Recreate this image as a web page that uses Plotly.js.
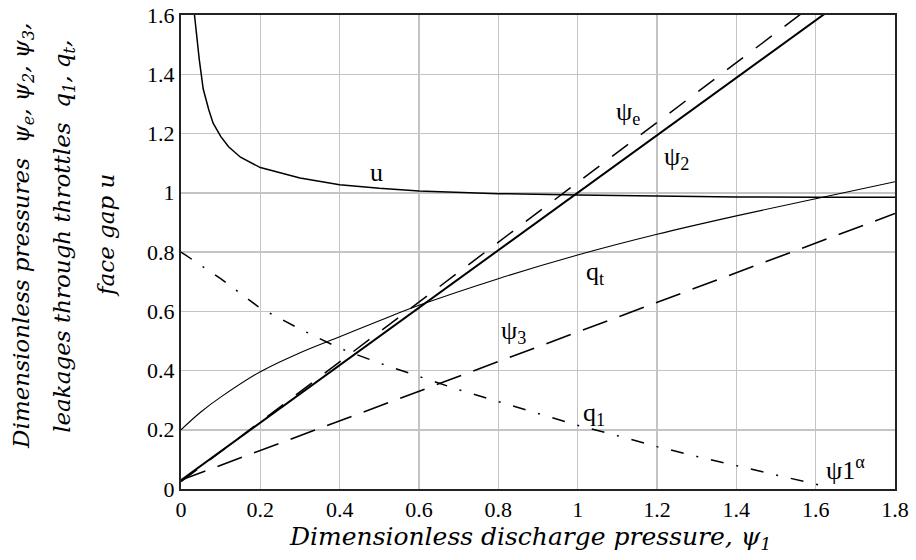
<!DOCTYPE html>
<html>
<head>
<meta charset="utf-8">
<script src="https://cdn.plot.ly/plotly-3.0.1.min.js"></script>
<style>html,body{margin:0;padding:0;background:#fff;}#chart{width:916px;height:560px;}</style>
</head>
<body>
<div id="chart"></div>
<script>
// ---- data ----
var psi2X = [0, 0.2, 0.4, 0.6, 0.8, 1.0, 1.2, 1.4, 1.6, 1.7];
var psi2Y = [0.03, 0.224, 0.418, 0.612, 0.806, 1.0, 1.194, 1.388, 1.582, 1.679];

var psiEX = [0, 0.2, 0.4, 0.6, 0.8, 1.0, 1.2, 1.4, 1.6];
var psiEY = [0.025, 0.227, 0.429, 0.631, 0.833, 1.035, 1.237, 1.439, 1.641];

var psi3X = [0, 0.2, 0.4, 0.6, 0.8, 1.0, 1.2, 1.4, 1.6, 1.8];
var psi3Y = [0.03, 0.13, 0.23, 0.33, 0.43, 0.53, 0.63, 0.73, 0.83, 0.93];

var uX = [0.034, 0.04, 0.046, 0.056, 0.07, 0.081, 0.1, 0.12, 0.15, 0.2, 0.3, 0.4, 0.5, 0.6, 0.8, 1.0, 1.2, 1.4, 1.6, 1.8];
var uY = [1.6, 1.52, 1.45, 1.35, 1.28, 1.235, 1.19, 1.155, 1.12, 1.085, 1.05, 1.027, 1.015, 1.006, 0.997, 0.992, 0.988, 0.986, 0.985, 0.985];

var qtX = [0, 0.05, 0.1, 0.2, 0.3, 0.4, 0.5, 0.6, 0.8, 1.0, 1.2, 1.4, 1.6, 1.8];
var qtY = [0.2, 0.26, 0.31, 0.396, 0.46, 0.514, 0.568, 0.62, 0.71, 0.79, 0.86, 0.922, 0.98, 1.037];

var q1X = [0, 0.1, 0.2, 0.3, 0.4, 0.5, 0.6, 0.7, 0.8, 0.9, 1.0, 1.1, 1.2, 1.3, 1.4, 1.5, 1.6, 1.62];
var q1Y = [0.8, 0.71, 0.61, 0.54, 0.475, 0.425, 0.38, 0.335, 0.295, 0.255, 0.215, 0.18, 0.143, 0.11, 0.078, 0.048, 0.015, 0.01];

var xTicks = [0, 0.2, 0.4, 0.6, 0.8, 1, 1.2, 1.4, 1.6, 1.8];
var xTickText = ['0', '0.2', '0.4', '0.6', '0.8', '1', '1.2', '1.4', '1.6', '1.8'];
var yTicks = [0, 0.2, 0.4, 0.6, 0.8, 1, 1.2, 1.4, 1.6];
var yTickText = ['0', '0.2', '0.4', '0.6', '0.8', '1', '1.2', '1.4', '1.6'];

var curveLabels = [
  {text: 'u', x: 0.493, y: 1.067},
  {text: 'ψ<sub>e</sub>', x: 1.127, y: 1.27},
  {text: 'ψ<sub>2</sub>', x: 1.25, y: 1.117},
  {text: 'q<sub>t</sub>', x: 1.044, y: 0.729},
  {text: 'ψ<sub>3</sub>', x: 0.839, y: 0.53},
  {text: 'q<sub>1</sub>', x: 1.041, y: 0.253},
  {text: 'ψ1<sup>α</sup>', x: 1.676, y: 0.068}
];

var yTitleLines = [
  'Dimensionless pressures  ψ<sub>e</sub>, ψ<sub>2</sub>, ψ<sub>3</sub>,',
  'leakages through throttles  q<sub>1</sub>, q<sub>t</sub>,',
  'face gap u'
];
var xTitle = 'Dimensionless discharge pressure, ψ<sub>1</sub>';

// ---- drawing ----
var serif = 'Liberation Serif, Times New Roman, serif';
var titleFont = 'DejaVu Serif, serif';
var traces = [
  {x: uX, y: uY, mode: 'lines', line: {color: '#000', width: 1.5}, name: 'u'},
  {x: qtX, y: qtY, mode: 'lines', line: {color: '#000', width: 1.1, shape: 'spline'}, name: 'qt'},
  {x: q1X, y: q1Y, mode: 'lines', line: {color: '#000', width: 1.5, dash: '13px,13px,2px,13px'}, name: 'q1'},
  {x: psi3X, y: psi3Y, mode: 'lines', line: {color: '#000', width: 1.6, dash: '26px,13px'}, name: 'psi3'},
  {x: psiEX, y: psiEY, mode: 'lines', line: {color: '#000', width: 1.5, dash: '20px,16px'}, name: 'psie'},
  {x: psi2X, y: psi2Y, mode: 'lines', line: {color: '#000', width: 2}, name: 'psi2'}
];

var ann = curveLabels.map(function (l) {
  return {x: l.x, y: l.y, xref: 'x', yref: 'y', text: l.text, showarrow: false,
    xanchor: 'center', yanchor: 'middle', font: {family: serif, size: 26, color: '#000'}};
});
var yLineX = [-0.2213, -0.1639, -0.105];
yTitleLines.forEach(function (t, i) {
  ann.push({x: yLineX[i], y: 0.534, xref: 'paper', yref: 'paper', text: '<i>' + t + '</i>',
    showarrow: false, textangle: -90, xanchor: 'center', yanchor: 'middle',
    font: {family: titleFont, size: 23, color: '#000'}});
});
ann.push({x: 0.489, y: -0.1034, xref: 'paper', yref: 'paper', text: '<i>' + xTitle + '</i>',
  showarrow: false, xanchor: 'center', yanchor: 'middle',
  font: {family: titleFont, size: 25, color: '#000'}});

var layout = {
  width: 916, height: 560,
  margin: {l: 181, r: 21, t: 15, b: 71, pad: 0},
  paper_bgcolor: '#fff', plot_bgcolor: '#fff',
  showlegend: false,
  font: {family: serif, size: 22, color: '#000'},
  xaxis: {range: [0, 1.8], tickvals: xTicks, ticktext: xTickText, showgrid: true,
    gridcolor: '#c4c4c4', gridwidth: 1.5, zeroline: false, showline: true, mirror: true,
    linecolor: '#222', linewidth: 2, ticks: '', ticklen: 0, tickfont: {family: serif, size: 22}},
  yaxis: {range: [0, 1.6], tickvals: yTicks, ticktext: yTickText, showgrid: true,
    gridcolor: '#c4c4c4', gridwidth: 1.5, zeroline: false, showline: true, mirror: true,
    linecolor: '#222', linewidth: 2, ticks: '', ticklen: 0, tickfont: {family: serif, size: 22}},
  annotations: ann
};

Plotly.newPlot('chart', traces, layout, {staticPlot: true, displayModeBar: false});
</script>
</body>
</html>
